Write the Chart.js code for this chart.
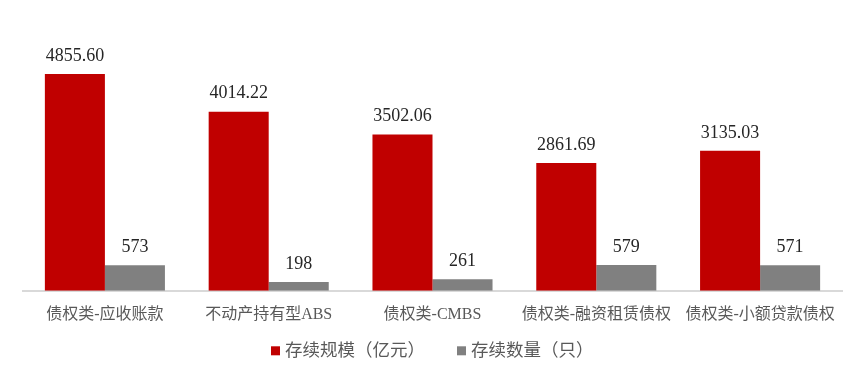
<!DOCTYPE html>
<html><head><meta charset="utf-8">
<script src="https://cdn.jsdelivr.net/npm/chart.js@4"></script>
<style>html,body{margin:0;padding:0;background:#fff}#wrap{width:865px;height:379px}</style>
</head><body><div id="wrap"><canvas id="c" width="865" height="379"></canvas></div>
<script>
const categories = ["债权类-应收账款", "不动产持有型ABS", "债权类-CMBS", "债权类-融资租赁债权", "债权类-小额贷款债权"];
const scaleValues = [4855.60, 4014.22, 3502.06, 2861.69, 3135.03];
const countValues = [573, 198, 261, 579, 571];
const seriesNames = ["存续规模（亿元）", "存续数量（只）"];
const seriesColors = ["#C00000", "#808080"];

const FONT = "'Liberation Serif', 'Noto Sans CJK SC', serif";

const labelPlugin = {
  id: 'barLabels',
  afterDatasetsDraw(chart) {
    const ctx = chart.ctx;
    ctx.save();
    ctx.font = "18px " + FONT;
    ctx.fillStyle = "#262626";
    ctx.textAlign = "center";
    ctx.textBaseline = "bottom";
    chart.data.datasets.forEach((ds, i) => {
      const meta = chart.getDatasetMeta(i);
      meta.data.forEach((el, j) => {
        const v = ds.data[j];
        const txt = i === 0 ? v.toFixed(2) : String(v);
        ctx.fillText(txt, el.x, el.y - 9);
      });
    });
    ctx.restore();
  }
};

// bottom legend drawn from the datasets
const legendPlugin = {
  id: 'bottomLegend',
  afterDraw(chart) {
    const ctx = chart.ctx;
    ctx.save();
    ctx.font = "17.5px " + FONT;
    ctx.textBaseline = "middle";
    ctx.textAlign = "left";
    const box = 9, gapText = 5, gapItem = 32;
    const items = chart.data.datasets.map(ds => ({ text: ds.label, color: ds.backgroundColor, w: ctx.measureText(ds.label).width }));
    let total = 0;
    items.forEach((it, i) => { total += box + gapText + it.w + (i ? gapItem : 0); });
    let x = Math.round(chart.width / 2 - total / 2);
    const y = chart.chartArea.bottom + 60;
    items.forEach((it) => {
      ctx.fillStyle = it.color;
      ctx.fillRect(x, y - box / 2, box, box);
      ctx.fillStyle = '#595959';
      ctx.fillText(it.text, x + box + gapText, y + 1);
      x += box + gapText + it.w + gapItem;
    });
    ctx.restore();
  }
};

new Chart(document.getElementById('c'), {
  type: 'bar',
  data: {
    labels: categories,
    datasets: [
      { label: seriesNames[0], data: scaleValues, backgroundColor: seriesColors[0] },
      { label: seriesNames[1], data: countValues, backgroundColor: seriesColors[1] }
    ]
  },
  options: {
    responsive: false,
    animation: false,
    devicePixelRatio: 1,
    layout: { padding: { left: 23, right: 23, top: 23, bottom: 49 } },
    datasets: { bar: { barPercentage: 1.0, categoryPercentage: 0.733 } },
    scales: {
      x: {
        grid: { display: false },
        border: { display: true, color: '#D9D9D9', width: 2 },
        ticks: { color: '#595959', font: { family: FONT, size: 16 }, padding: 6, maxRotation: 0, autoSkip: false }
      },
      y: { display: false, min: 0, max: 6000 }
    },
    plugins: {
      legend: { display: false },
      tooltip: { enabled: false }
    }
  },
  plugins: [labelPlugin, legendPlugin]
});
</script></body></html>
